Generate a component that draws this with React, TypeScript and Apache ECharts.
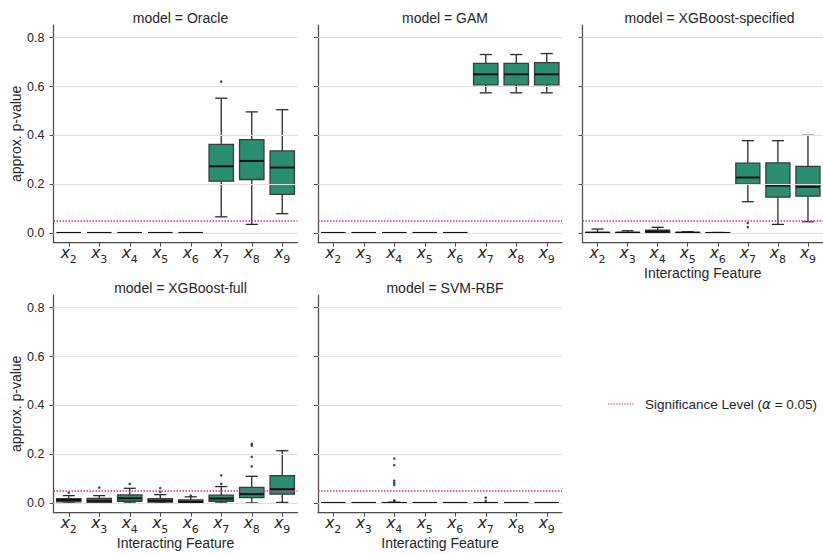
import React, { useEffect, useRef } from "react";
import * as echarts from "echarts";

// Interacting features shown on every panel's x axis
const CATEGORIES = ["x2", "x3", "x4", "x5", "x6", "x7", "x8", "x9"];
const MODELS = ["Oracle", "GAM", "XGBoost-specified", "XGBoost-full", "SVM-RBF"];
const Y_TICKS = [0, 0.2, 0.4, 0.6, 0.8];
const ALPHA = 0.05;

// Box statistics per feature: [lower whisker, Q1, median, Q3, upper whisker]
const ORACLE_BOXES = [
  [0, 0, 0, 0, 0],
  [0, 0, 0, 0, 0],
  [0, 0, 0, 0, 0],
  [0, 0, 0, 0, 0],
  [0, 0, 0, 0, 0],
  [0.066, 0.212, 0.273, 0.363, 0.552],
  [0.035, 0.219, 0.295, 0.382, 0.496],
  [0.079, 0.158, 0.268, 0.336, 0.505],
];
const ORACLE_OUTLIERS: [string, number][] = [["x7", 0.62]];

const GAM_BOXES = [
  [0, 0, 0, 0, 0],
  [0, 0, 0, 0, 0],
  [0, 0, 0, 0, 0],
  [0, 0, 0, 0, 0],
  [0, 0, 0, 0, 0],
  [0.574, 0.607, 0.65, 0.695, 0.731],
  [0.574, 0.607, 0.65, 0.695, 0.731],
  [0.574, 0.607, 0.65, 0.698, 0.735],
];
const GAM_OUTLIERS: [string, number][] = [];

const XGB_SPEC_BOXES = [
  [0, 0, 0.001, 0.002, 0.016],
  [0, 0, 0.001, 0.002, 0.009],
  [0, 0.002, 0.005, 0.011, 0.023],
  [0, 0, 0.001, 0.002, 0.005],
  [0, 0, 0, 0.001, 0.002],
  [0.128, 0.2, 0.227, 0.286, 0.378],
  [0.035, 0.147, 0.194, 0.287, 0.378],
  [0.046, 0.151, 0.189, 0.273, 0.4],
];
const XGB_SPEC_OUTLIERS: [string, number][] = [
  ["x7", 0.041],
  ["x7", 0.024],
];

const XGB_FULL_BOXES = [
  [0, 0.004, 0.012, 0.018, 0.03],
  [0, 0.002, 0.009, 0.019, 0.03],
  [0, 0.007, 0.019, 0.033, 0.06],
  [0, 0.003, 0.009, 0.018, 0.034],
  [0, 0.001, 0.004, 0.012, 0.025],
  [0, 0.007, 0.018, 0.032, 0.067],
  [0, 0.022, 0.036, 0.064, 0.109],
  [0.002, 0.036, 0.056, 0.112, 0.214],
];
const XGB_FULL_OUTLIERS: [string, number][] = [
  ["x2", 0.042],
  ["x3", 0.063],
  ["x4", 0.078],
  ["x5", 0.045],
  ["x5", 0.061],
  ["x6", 0.03],
  ["x7", 0.078],
  ["x7", 0.113],
  ["x8", 0.15],
  ["x8", 0.189],
  ["x8", 0.235],
  ["x8", 0.242],
];

const SVM_BOXES = [
  [0, 0, 0, 0, 0],
  [0, 0, 0, 0, 0],
  [0, 0, 0, 0.001, 0.003],
  [0, 0, 0, 0, 0],
  [0, 0, 0, 0, 0],
  [0, 0, 0, 0, 0.001],
  [0, 0, 0, 0, 0],
  [0, 0, 0, 0, 0],
];
const SVM_OUTLIERS: [string, number][] = [
  ["x4", 0.007],
  ["x4", 0.011],
  ["x4", 0.074],
  ["x4", 0.082],
  ["x4", 0.091],
  ["x4", 0.155],
  ["x4", 0.182],
  ["x7", 0.008],
  ["x7", 0.022],
];

const PANEL_BOXES = [ORACLE_BOXES, GAM_BOXES, XGB_SPEC_BOXES, XGB_FULL_BOXES, SVM_BOXES];
const PANEL_OUTLIERS = [ORACLE_OUTLIERS, GAM_OUTLIERS, XGB_SPEC_OUTLIERS, XGB_FULL_OUTLIERS, SVM_OUTLIERS];

// Layout of the facet grid (pixels)
const PANEL_LEFT = [53.5, 318, 582.5, 53.5, 318];
const PANEL_TOP = [25, 25, 25, 295, 295];
const PANEL_W = 244;
const PANEL_H = 217.7;
const Y_MIN = -0.04;
const Y_MAX = 0.852;

const BOX_FILL = "#2b8e70";
const BOX_EDGE = "#3a3a3a";
const SIG_COLOR = "#e7298a";
const SPINE = "#4d4d4d";
const TEXT = "#262626";
const SANS = "'Liberation Sans', Arial, Helvetica, sans-serif";
const MATH = "'DejaVu Sans', sans-serif";

function renderBox(params: any, api: any) {
  const c = api.value(0);
  const lo = api.coord([c, api.value(1)]);
  const q1 = api.coord([c, api.value(2)]);
  const md = api.coord([c, api.value(3)]);
  const q3 = api.coord([c, api.value(4)]);
  const hi = api.coord([c, api.value(5)]);
  const band = api.size([1, 0])[0];
  const bw = band * 0.8;
  const cx = lo[0];
  const capHalf = bw / 4;
  const lineStyle = { stroke: "#2a2a2a", lineWidth: 1.3 };
  return {
    type: "group",
    children: [
      { type: "line", shape: { x1: cx, y1: lo[1], x2: cx, y2: q1[1] }, style: lineStyle },
      { type: "line", shape: { x1: cx, y1: q3[1], x2: cx, y2: hi[1] }, style: lineStyle },
      { type: "line", shape: { x1: cx - capHalf, y1: lo[1], x2: cx + capHalf, y2: lo[1] }, style: lineStyle },
      { type: "line", shape: { x1: cx - capHalf, y1: hi[1], x2: cx + capHalf, y2: hi[1] }, style: lineStyle },
      {
        type: "rect",
        shape: { x: cx - bw / 2, y: q3[1], width: bw, height: q1[1] - q3[1] },
        style: { fill: BOX_FILL, stroke: BOX_EDGE, lineWidth: 1.3 },
      },
      {
        type: "line",
        shape: { x1: cx - bw / 2, y1: md[1], x2: cx + bw / 2, y2: md[1] },
        style: { stroke: "#111111", lineWidth: 2 },
      },
    ],
  };
}

function buildOption() {
  const grid: any[] = [];
  const xAxis: any[] = [];
  const yAxis: any[] = [];
  const series: any[] = [];
  const title: any[] = [];

  MODELS.forEach((model, i) => {
    grid.push({ left: PANEL_LEFT[i], top: PANEL_TOP[i], width: PANEL_W, height: PANEL_H, containLabel: false });
    const showXName = i >= 2;
    const showYLabels = i === 0 || i === 3;
    xAxis.push({
      type: "category",
      gridIndex: i,
      data: CATEGORIES,
      boundaryGap: true,
      name: showXName ? "Interacting Feature" : "",
      nameLocation: "middle",
      nameGap: 23,
      nameTextStyle: { fontFamily: SANS, fontSize: 14, color: TEXT },
      axisLine: { show: true, onZero: false, lineStyle: { color: SPINE, width: 1.25 } },
      axisTick: { show: true, interval: 0, alignWithLabel: true, length: 4, lineStyle: { color: SPINE, width: 1 } },
      axisLabel: {
        interval: 0,
        margin: 2,
        formatter: (v: string) => `{i|${v.charAt(0)}}{s|${v.slice(1)}}`,
        rich: {
          i: { fontFamily: MATH, fontStyle: "italic", fontSize: 15.5, color: TEXT, lineHeight: 20, verticalAlign: "top" },
          s: { fontFamily: MATH, fontSize: 11, color: TEXT, lineHeight: 10, verticalAlign: "bottom" },
        },
      },
      splitLine: { show: false },
    });
    yAxis.push({
      type: "value",
      gridIndex: i,
      min: Y_MIN,
      max: Y_MAX,
      name: showYLabels ? "approx. p-value" : "",
      nameLocation: "middle",
      nameGap: 29,
      nameRotate: 90,
      nameTextStyle: { fontFamily: SANS, fontSize: 14, color: TEXT },
      axisLine: { show: true, lineStyle: { color: SPINE, width: 1.25 } },
      axisTick: { show: true, length: 4, customValues: Y_TICKS, lineStyle: { color: SPINE, width: 1 } },
      axisLabel: {
        show: showYLabels,
        customValues: Y_TICKS,
        margin: 9,
        fontFamily: SANS,
        fontSize: 12.5,
        color: TEXT,
        formatter: (v: number) => v.toFixed(1),
      },
      splitLine: { show: false },
    });
    title.push({
      text: `model = ${model}`,
      left: PANEL_LEFT[i] + PANEL_W / 2,
      top: PANEL_TOP[i] - 19,
      textAlign: "center",
      textStyle: { fontFamily: SANS, fontSize: 14, fontWeight: "normal", color: TEXT },
    });

    // horizontal gridlines
    series.push({
      type: "line",
      xAxisIndex: i,
      yAxisIndex: i,
      data: [],
      z: 1,
      silent: true,
      markLine: {
        silent: true,
        symbol: "none",
        label: { show: false },
        lineStyle: { color: "#e0e0e0", width: 1, type: "solid" },
        data: Y_TICKS.map((t) => ({ yAxis: t })),
      },
    });
    // boxes
    series.push({
      type: "custom",
      xAxisIndex: i,
      yAxisIndex: i,
      z: 2,
      renderItem: renderBox,
      encode: { x: 0, y: [1, 2, 3, 4, 5] },
      data: PANEL_BOXES[i].map((b, k) => [k, ...b]),
    });
    // outliers
    series.push({
      type: "scatter",
      xAxisIndex: i,
      yAxisIndex: i,
      z: 3,
      symbol: "circle",
      symbolSize: 2.6,
      itemStyle: { color: "#1a1a1a" },
      data: PANEL_OUTLIERS[i].map(([c, v]) => [CATEGORIES.indexOf(c), v]),
    });
    // significance level
    series.push({
      type: "line",
      xAxisIndex: i,
      yAxisIndex: i,
      data: [],
      z: 4,
      silent: true,
      markLine: {
        silent: true,
        symbol: "none",
        label: { show: false },
        lineStyle: { color: SIG_COLOR, width: 1.5, type: [1.5, 1.5] },
        data: [{ yAxis: ALPHA }],
      },
    });
  });

  return {
    animation: false,
    backgroundColor: "#ffffff",
    title,
    grid,
    xAxis,
    yAxis,
    series,
    graphic: [
      {
        type: "line",
        shape: { x1: 608, y1: 404, x2: 635, y2: 404 },
        style: { stroke: SIG_COLOR, lineWidth: 1, lineDash: [1.5, 1.2] },
      },
      {
        type: "text",
        x: 645,
        y: 404,
        style: {
          text: "{t|Significance Level (}{a|α}{t| = 0.05)}",
          verticalAlign: "middle",
          rich: {
            t: { fontFamily: SANS, fontSize: 13.5, fill: TEXT },
            a: { fontFamily: MATH, fontStyle: "italic", fontSize: 13.5, fill: TEXT },
          },
        },
      },
    ],
  };
}

export default function App() {
  const ref = useRef<HTMLDivElement>(null);
  useEffect(() => {
    if (!ref.current) return;
    const chart = echarts.init(ref.current, undefined, { renderer: "svg" });
    chart.setOption(buildOption() as any);
    return () => chart.dispose();
  }, []);
  return (
    <div
      ref={ref}
      style={{ position: "absolute", left: 0, top: 0, width: 823, height: 554, background: "#fff" }}
    />
  );
}
